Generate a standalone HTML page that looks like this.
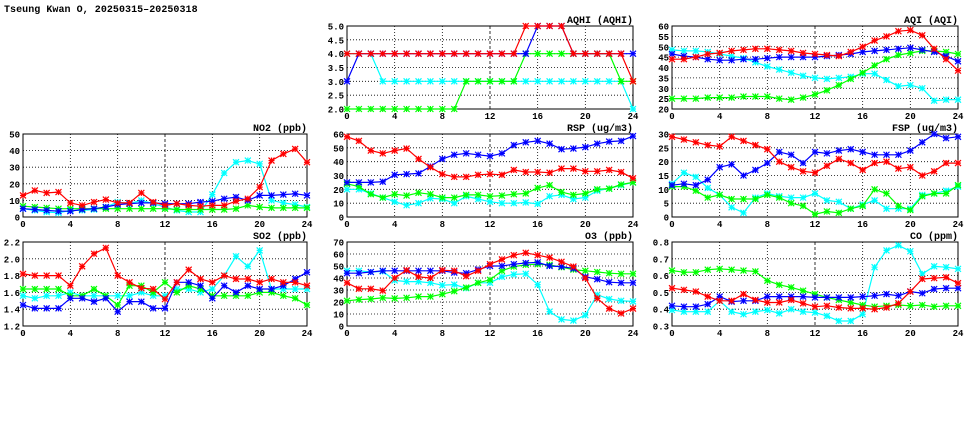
<!DOCTYPE html>
<html><head><meta charset="utf-8"><style>
html,body{margin:0;padding:0;background:#fff;}
svg{display:block;font-family:"Liberation Mono","DejaVu Sans Mono",monospace;}
</style></head><body>
<svg id="chart" width="975" height="447" viewBox="0 0 975 447" xmlns="http://www.w3.org/2000/svg">
<text x="4" y="12" font-size="10" font-weight="bold" letter-spacing="0.05">Tseung Kwan O, 20250315–20250318</text>
</svg>
<script>
const hours=[0,1,2,3,4,5,6,7,8,9,10,11,12,13,14,15,16,17,18,19,20,21,22,23,24];
const xTicks=[0,4,8,12,16,20,24];
const aqhiRed=[4,4,4,4,4,4,4,4,4,4,4,4,4,4,4,5,5,5,5,4,4,4,4,4,3];
const aqhiBlue=[3,4,4,4,4,4,4,4,4,4,4,4,4,4,4,4,5,5,5,4,4,4,4,4,4];
const aqhiCyan=[4,4,4,3,3,3,3,3,3,3,3,3,3,3,3,3,3,3,3,3,3,3,3,3,2];
const aqhiGreen=[2,2,2,2,2,2,2,2,2,2,3,3,3,3,3,4,4,4,4,4,4,4,4,3,3];
const aqhiTicks=[2.0,2.5,3.0,3.5,4.0,4.5,5.0];
const aqiRed=[44,44,45,46.5,47,48,48.5,49,49,48.5,48,47,46.5,46,45.5,47.5,50,53,55,57.5,58,55.5,49,44,38.5];
const aqiBlue=[46.5,45.5,45,44,43.5,43.5,44,44,44.5,45,45,45,45,45.5,46,46.5,47.5,48,48.5,49,49.5,48.5,47.5,45.5,43];
const aqiCyan=[48.5,48,48,47.5,46.5,45.5,44.5,42.5,40.5,39,37.5,36,35,34.5,35,35.5,37,37,34,31,31.5,30,24,24.5,24.5];
const aqiGreen=[25,25,25,25.5,25.5,25.5,26,26,26,25,24.5,25.5,27,29,31.5,34.5,37.5,41,44,46,47,48,48,47.5,46.5];
const aqiTicks=[20,25,30,35,40,45,50,55,60];
const no2Red=[13,16,14.5,15,8.5,7,9,10.5,8.5,8.5,14.5,9,7,8,7,6.5,7,7,9.5,11,18,34,38,41,33];
const no2Blue=[5,4.5,4,3.5,3.5,4.5,5,6,7.5,8,8.5,8.5,8,8,8,9,9.5,11,12,10,13,13,13.5,14,13];
const no2Cyan=[5,4,3,2.5,4,4,4.5,6,9,8,10,8,6,4,3,3,13.5,26.5,33,34,32,10,8.5,7.5,6];
const no2Green=[6.5,6,5.5,5,5,5,5,5,5,5,5,5,5,4.5,4.5,4.5,4.5,4.5,5,7,6,5.5,5.5,5.5,5.5];
const no2Ticks=[0,10,20,30,40,50];
const rspRed=[58,55,48,46,48,49.5,42,36,31,29,29,30.5,31,30.5,34,32.5,32.5,32,35,35,33,33,34,32.5,28];
const rspBlue=[25,25,25,25.5,30.5,31,31.5,36.5,42,45,46,45,44,46,52,54,55,53,49,49.5,50.5,53,54.5,55,58.5];
const rspCyan=[20,20,17,14,11,8.5,10,13.5,13,10,15,13,11,10,10,10.5,9.5,15,16,13,14,19,20.5,23,25];
const rspGreen=[24,22,16.5,14,16.5,15.5,17.5,16.5,14,14,16,16,15,15.5,16.5,17,21,23,18,16,17,20,20.5,23.5,25];
const rspTicks=[0,10,20,30,40,50,60];
const fspRed=[29,28,27,26,25.5,29,27.5,26,24.5,20,18,16.5,16,18.5,21,19.5,17,19.5,20,17.5,18,15,16.5,19.5,19.5];
const fspBlue=[11.5,12,11.5,13.5,18,19,15,17,19.5,23.5,22.5,19.5,23.5,23,24,24.5,23.5,22.5,22.5,22.5,24,27,30,28.5,29];
const fspCyan=[12,16,14.5,10.5,8,3.5,1.5,7,8.5,7.5,7,7,8.5,6,5.5,3,4.5,6,3,3,3,8,8.5,9.5,11];
const fspGreen=[11,11,9.5,7,8,6.5,6.5,6.5,8,7,5,4,1,2,1.5,3,4,10,8.5,4,2.5,7.5,8.5,8.5,11.5];
const fspTicks=[0,5,10,15,20,25,30];
const so2Red=[1.82,1.80,1.80,1.80,1.68,1.91,2.06,2.13,1.80,1.72,1.65,1.64,1.52,1.72,1.87,1.76,1.72,1.80,1.76,1.76,1.72,1.76,1.72,1.72,1.68];
const so2Blue=[1.45,1.41,1.41,1.41,1.53,1.53,1.49,1.53,1.37,1.49,1.49,1.41,1.41,1.72,1.72,1.68,1.53,1.68,1.60,1.68,1.64,1.64,1.68,1.76,1.84];
const so2Cyan=[1.56,1.53,1.56,1.56,1.60,1.56,1.56,1.56,1.56,1.56,1.60,1.56,1.56,1.64,1.64,1.60,1.64,1.80,2.03,1.91,2.10,1.64,1.64,1.64,1.64];
const so2Green=[1.64,1.64,1.64,1.64,1.56,1.56,1.64,1.56,1.45,1.68,1.68,1.60,1.72,1.60,1.68,1.64,1.56,1.56,1.56,1.56,1.60,1.60,1.56,1.53,1.45];
const so2Ticks=[1.2,1.4,1.6,1.8,2.0,2.2];
const o3Red=[36,31,31,29.5,40,46.5,41,40,46.5,46,41.5,46,51.5,55.5,59,61,59,57,53.5,49.5,40,23,14.5,10.5,14.5];
const o3Blue=[44,44,45,46,46,46,46,46,46,44.5,44,47,50,50,51.5,52.5,53,50,49.5,48,41,39,36.5,36,36];
const o3Cyan=[46,46,45,45.5,38,37,37,36,34,34.5,31.5,36,36,41,43,43.5,34.5,12,5.5,4.5,9,26,22.5,21,20.5];
const o3Green=[21,22,22.5,23.5,23,23.5,24.5,24.5,26.5,29,32,36,38.5,46,49.5,51,51.5,51,49,47,46,45,44,43.5,43.5];
const o3Ticks=[0,10,20,30,40,50,60,70];
const coRed=[.525,.515,.505,.475,.45,.45,.49,.455,.44,.44,.455,.435,.415,.42,.41,.405,.405,.40,.41,.435,.505,.58,.585,.59,.555];
const coBlue=[.42,.415,.415,.43,.475,.445,.45,.45,.475,.475,.475,.475,.47,.47,.47,.47,.475,.48,.49,.48,.505,.495,.52,.525,.525];
const coCyan=[.395,.385,.385,.385,.45,.385,.37,.385,.395,.375,.40,.385,.38,.36,.33,.33,.37,.65,.75,.78,.745,.61,.655,.65,.64];
const coGreen=[.63,.62,.62,.635,.64,.635,.63,.625,.57,.545,.53,.51,.49,.47,.455,.44,.425,.415,.42,.425,.42,.425,.415,.42,.42];
const coTicks=[0.3,0.4,0.5,0.6,0.7,0.8];

const NS="http://www.w3.org/2000/svg";
const svg=document.getElementById('chart');
function mk(tag,attrs,parent){const e=document.createElementNS(NS,tag);for(const k in attrs)e.setAttribute(k,attrs[k]);(parent||svg).appendChild(e);return e;}

const panels=[
 {name:'aqhi',title:'AQHI (AQHI)',x0:347,x1:633,y0:26,y1:109,ticks:aqhiTicks,dec:1,s:[aqhiCyan,aqhiGreen,aqhiBlue,aqhiRed]},
 {name:'aqi',title:'AQI (AQI)',x0:672,x1:958,y0:26,y1:109,ticks:aqiTicks,dec:0,s:[aqiCyan,aqiGreen,aqiBlue,aqiRed]},
 {name:'no2',title:'NO2 (ppb)',x0:23,x1:307,y0:134,y1:217,ticks:no2Ticks,dec:0,s:[no2Cyan,no2Green,no2Blue,no2Red]},
 {name:'rsp',title:'RSP (ug/m3)',x0:347,x1:633,y0:134,y1:217,ticks:rspTicks,dec:0,s:[rspCyan,rspGreen,rspBlue,rspRed]},
 {name:'fsp',title:'FSP (ug/m3)',x0:672,x1:958,y0:134,y1:217,ticks:fspTicks,dec:0,s:[fspCyan,fspGreen,fspBlue,fspRed]},
 {name:'so2',title:'SO2 (ppb)',x0:23,x1:307,y0:242,y1:326,ticks:so2Ticks,dec:1,s:[so2Cyan,so2Green,so2Blue,so2Red]},
 {name:'o3',title:'O3 (ppb)',x0:347,x1:633,y0:242,y1:326,ticks:o3Ticks,dec:0,s:[o3Cyan,o3Green,o3Blue,o3Red]},
 {name:'co',title:'CO (ppm)',x0:672,x1:958,y0:242,y1:326,ticks:coTicks,dec:1,s:[coCyan,coGreen,coBlue,coRed]}
];
const colors=['#00ffff','#00ff00','#0000ff','#ff0000'];
const sNames=['cyan','green','blue','red'];

panels.forEach(p=>{
 const g=mk('g',{});
 
 
 const ymin=p.ticks[0],ymax=p.ticks[p.ticks.length-1];
 const xs=h=>p.x0+(h-0)/24*(p.x1-p.x0);
 const ys=v=>p.y1-(v-ymin)/(ymax-ymin)*(p.y1-p.y0);
 p.ticks.forEach(t=>{
  const y=ys(t);
  if(t!==ymin&&t!==ymax){const l=mk('line',{x1:p.x0,x2:p.x1,y1:y,y2:y,stroke:'#000','stroke-width':0.8,'stroke-dasharray':'1,2'},g);}
  const tx=mk('text',{x:p.x0-3,y:y+3.5,'font-size':9,'font-weight':'bold','text-anchor':'end'},g);
  tx.textContent=t.toFixed(p.dec);
  
  
 });
 xTicks.forEach(t=>{
  const x=xs(t);
  if(t!==0&&t!==24){const l=mk('line',{x1:x,x2:x,y1:p.y0,y2:p.y1,stroke:'#000','stroke-width':0.8,'stroke-dasharray':t===12?'3,2':'1,2'},g);}
  const tx=mk('text',{x:x,y:p.y1+10,'font-size':9,'font-weight':'bold','text-anchor':'middle'},g);
  tx.textContent=t;
  
  
 });
 const fr=mk('rect',{x:p.x0,y:p.y0,width:p.x1-p.x0,height:p.y1-p.y0,fill:'none',stroke:'#000','stroke-width':1},g);
 
 
 const ti=mk('text',{x:p.x1,y:p.y0-3,'font-size':10,'font-weight':'bold','text-anchor':'end'},g);
 ti.textContent=p.title;
 
 
 p.s.forEach((arr,i)=>{
  const pts=arr.map((v,h)=>xs(hours[h]).toFixed(1)+','+ys(v).toFixed(1)).join(' ');
  const sg=mk('g',{},g);
  
  
  const pl=mk('polyline',{points:pts,fill:'none',stroke:colors[i],'stroke-width':1.2},sg);
  
  
  arr.forEach((v,h)=>{
   const x=xs(hours[h]),y=ys(v),r=3;
   const m=mk('path',{d:`M${x-r},${y-r}L${x+r},${y+r}M${x-r},${y+r}L${x+r},${y-r}M${x-r},${y}L${x+r},${y}M${x},${y-r}L${x},${y+r}`,stroke:colors[i],'stroke-width':1.2,fill:'none'},sg);
   
   
  });
 });
});
</script>
</body></html>
